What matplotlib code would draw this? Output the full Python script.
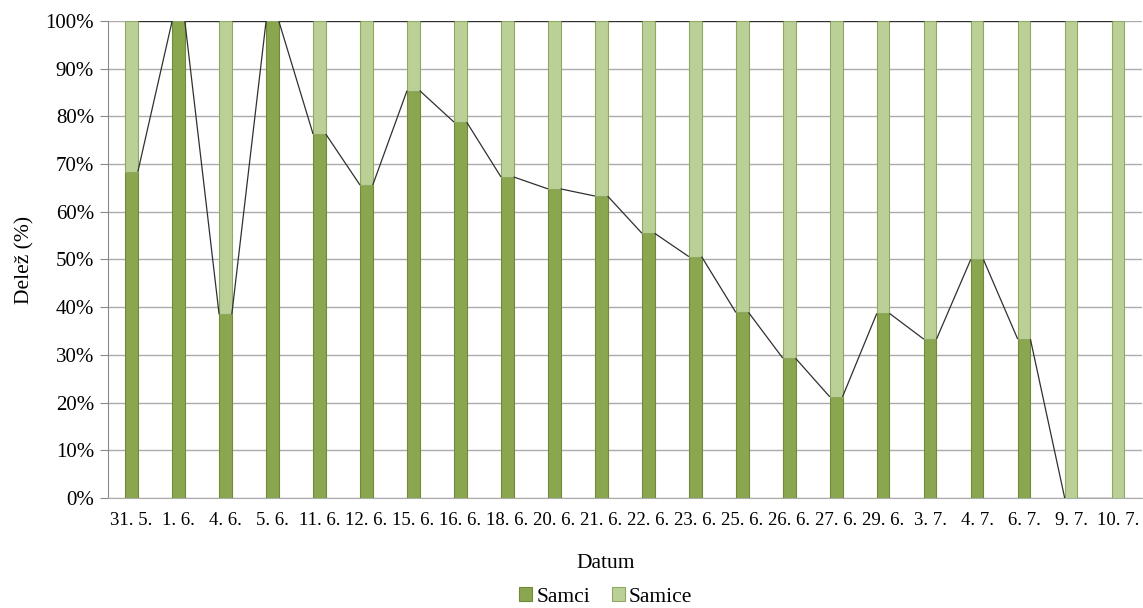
import matplotlib
matplotlib.use("Agg")
import matplotlib.pyplot as plt
from matplotlib.ticker import PercentFormatter
import numpy as np

dates = ["31. 5.", "1. 6.", "4. 6.", "5. 6.", "11. 6.", "12. 6.", "15. 6.", "16. 6.",
         "18. 6.", "20. 6.", "21. 6.", "22. 6.", "23. 6.", "25. 6.", "26. 6.", "27. 6.",
         "29. 6.", "3. 7.", "4. 7.", "6. 7.", "9. 7.", "10. 7."]
samci = [68.4, 100, 38.5, 100, 76.3, 65.6, 85.4, 78.8, 67.3, 64.8, 63.3, 55.5,
         50.6, 38.9, 29.3, 21.2, 38.7, 33.3, 50.0, 33.3, 0, 0]
samice = [100 - v for v in samci]

plt.rcParams['font.family'] = ['Liberation Serif', 'DejaVu Serif']

fig = plt.figure(figsize=(11.43, 6.08), dpi=100)
ax = fig.add_axes([0.0945, 0.1809, 0.9042, 0.7846])

x = np.arange(len(dates))
w = 0.27
c_m, e_m = '#8AA64E', '#71893D'
c_f, e_f = '#BBD097', '#8FAA60'
ax.bar(x, samci, w, color=c_m, edgecolor=e_m, linewidth=0.8, label='Samci', zorder=3)
ax.bar(x, samice, w, bottom=samci, color=c_f, edgecolor=e_f, linewidth=0.8, label='Samice', zorder=3)

# series lines (Excel-style) connecting tops of stacks
tops1 = np.array(samci)
tops2 = np.array(samci) + np.array(samice)
for tops in (tops1, tops2):
    for i in range(len(x) - 1):
        ax.plot([x[i] + w / 2, x[i + 1] - w / 2], [tops[i], tops[i + 1]],
                color='#303030', lw=0.9, zorder=4, solid_capstyle='butt')

ax.set_xlim(-0.5, len(dates) - 0.5)
ax.set_ylim(0, 100)
ax.set_yticks(np.arange(0, 101, 10))
ax.yaxis.set_major_formatter(PercentFormatter(decimals=0))
ax.set_xticks(x)
ax.set_xticklabels(dates)
ax.grid(axis='y', color='#ABABAB', lw=1.0, zorder=0)
ax.set_axisbelow(True)
for s in ('top', 'right'):
    ax.spines[s].set_visible(False)
ax.spines['left'].set_color('#898989')
ax.spines['bottom'].set_color('#ABABAB')
ax.tick_params(axis='y', length=6, color='#898989', labelsize=15, pad=4)
ax.tick_params(axis='x', length=0, labelsize=13.5, pad=10)

ax.set_ylabel('Delež (%)', fontsize=15.5, labelpad=8)
fig.text(0.5295, 1 - 563 / 608, 'Datum', fontsize=15.5, ha='center', va='center')
leg = fig.legend(loc='center', bbox_to_anchor=(0.53, 1 - 597 / 608), ncol=2, frameon=False,
                 fontsize=15.5, handlelength=0.6, handleheight=0.6, handletextpad=0.2,
                 columnspacing=1.0)

fig.savefig('out.png', dpi=100)
